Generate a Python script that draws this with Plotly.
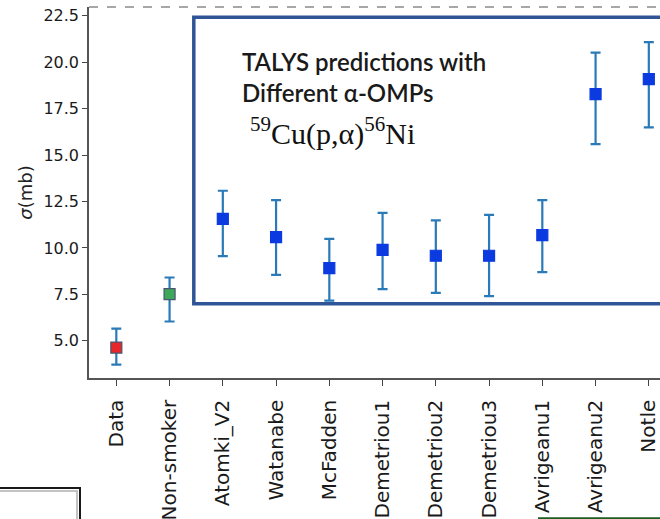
import plotly.graph_objects as go

# ---- data ----
categories = ["Data", "Non-smoker", "Atomki_V2", "Watanabe", "McFadden",
              "Demetriou1", "Demetriou2", "Demetriou3", "Avrigeanu1",
              "Avrigeanu2", "Notle"]
sigma = [4.64, 7.51, 11.57, 10.58, 8.91, 9.90, 9.58, 9.58, 10.69, 18.28, 19.09]
sigma_upper = [5.66, 8.41, 13.08, 12.57, 10.49, 11.89, 11.48, 11.78, 12.57, 20.51, 21.08]
sigma_lower = [3.72, 6.04, 9.56, 8.55, 7.17, 7.78, 7.58, 7.41, 8.70, 15.59, 16.49]
y_ticks = [5.0, 7.5, 10.0, 12.5, 15.0, 17.5, 20.0, 22.5]

err_plus = [u - v for u, v in zip(sigma_upper, sigma)]
err_minus = [v - l for v, l in zip(sigma, sigma_lower)]

marker_colors = ["#e8262a", "#3ea85a"] + ["#0b3be0"] * (len(categories) - 2)
edge_colors = ["#4a5470", "#4a5470"] + ["#0b3be0"] * (len(categories) - 2)

W, H = 660, 519
L, R, T, B = 89, 0, 7, 141
pw, ph = W - L - R, H - T - B


def px(x):
    return (x - L) / pw


def py(y):
    return (H - B - y) / ph


fig = go.Figure()
fig.add_trace(go.Scatter(
    x=categories, y=sigma, mode="markers",
    marker=dict(symbol="square", size=11, color=marker_colors,
                line=dict(color=edge_colors, width=1.2)),
    error_y=dict(type="data", symmetric=False, array=err_plus,
                 arrayminus=err_minus, color="#2a7ab8", thickness=2.2, width=5),
    showlegend=False,
))

shapes = [
    # blue inset frame
    dict(type="rect", xref="x", yref="y", x0=1.455, x1=10.8, y0=6.99, y1=22.42,
         line=dict(color="#2f5597", width=3.5), layer="below"),
    # dashed top spine
    dict(type="line", xref="paper", yref="paper", x0=0, x1=1, y0=1, y1=1,
         line=dict(color="#8a8a8a", width=1.5, dash="dash")),
    # partial boxes at the bottom edge
    dict(type="rect", xref="paper", yref="paper", x0=px(-20), x1=px(80),
         y0=py(488), y1=py(560), line=dict(color="#1a1a1a", width=2)),
    dict(type="rect", xref="paper", yref="paper", x0=px(-20), x1=px(77),
         y0=py(491), y1=py(560), line=dict(color="#b0b0b0", width=1.5)),
    dict(type="line", xref="paper", yref="paper", x0=px(538), x1=px(670),
         y0=py(518.5), y1=py(518.5), line=dict(color="#1e5c1e", width=2.5)),
]

annotations = [
    dict(xref="paper", yref="paper", x=px(240), y=py(77), xanchor="left",
         yanchor="middle", showarrow=False, align="left",
         text="TALYS predictions with<br>Different α-OMPs",
         font=dict(family="Lato", size=24, color="#1a1a1a", weight=600)),
    dict(xref="paper", yref="paper", x=px(248), y=py(131), xanchor="left",
         yanchor="middle", showarrow=False,
         text="<sup>59</sup>Cu(p,α)<sup>56</sup>Ni",
         font=dict(family="Liberation Serif", size=30, color="#111111")),
]

fig.update_layout(
    width=W, height=H,
    margin=dict(l=L, r=R, t=T, b=B, pad=0),
    paper_bgcolor="white", plot_bgcolor="white",
    shapes=shapes, annotations=annotations,
    font=dict(family="DejaVu Sans", color="#222222"),
)
fig.update_xaxes(
    type="category", categoryorder="array", categoryarray=categories,
    range=[-0.513, 10.21], tickangle=-90,
    tickfont=dict(family="DejaVu Sans", size=20, color="#1a1a1a"),
    ticks="outside", ticklen=6, tickwidth=1.2, tickcolor="#444444",
    ticklabelstandoff=6,
    showline=True, linecolor="#555555", linewidth=1.5, showgrid=False,
    zeroline=False,
)
fig.update_yaxes(
    range=[3.0, 22.97], tickvals=y_ticks,
    ticktext=[f"{t:.1f}" for t in y_ticks],
    tickfont=dict(family="DejaVu Sans", size=16, color="#1a1a1a"),
    ticks="outside", ticklen=5, tickwidth=1.2, tickcolor="#444444",
    showline=True, linecolor="#555555", linewidth=1.5, showgrid=False,
    zeroline=False,
    title=dict(text="<i>σ</i>(mb)", font=dict(family="DejaVu Sans", size=18),
               standoff=6),
)

fig.write_html("out.html")
